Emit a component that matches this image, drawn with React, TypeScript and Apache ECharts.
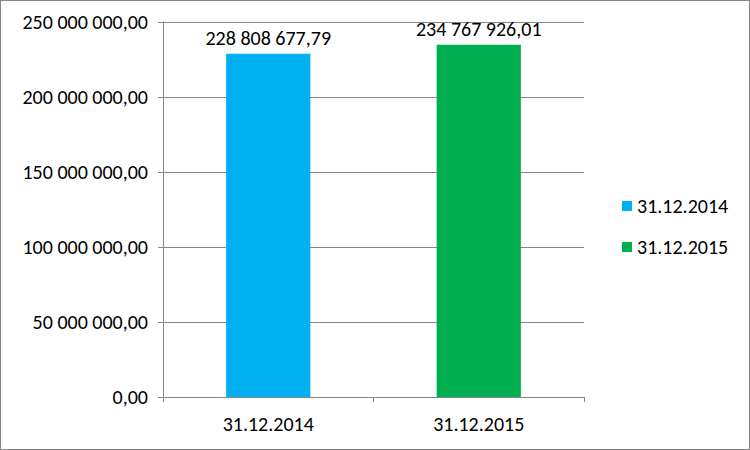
import { useEffect, useRef } from 'react';
import * as echarts from 'echarts';

const categories = ['31.12.2014', '31.12.2015'];
const seriesNames = ['31.12.2014', '31.12.2015'];
const values = [228808677.79, 234767926.01];
const colors = ['#00B0F0', '#00B050'];

const FONT = 'Carlito, Lato, sans-serif';
const FS = 20;

/** 228808677.79 -> "228 808 677,79" */
function fmt(v: number) {
  const [int, dec] = v.toFixed(2).split('.');
  return int.replace(/\B(?=(\d{3})+(?!\d))/g, ' ') + ',' + dec;
}

export default function App() {
  const elRef = useRef<HTMLDivElement>(null);

  useEffect(() => {
    const el = elRef.current;
    if (!el) return;
    const chart = echarts.init(el, undefined, { renderer: 'svg' });

    // one series per date, stacked so each bar sits centred in its own category
    const series = seriesNames.map((name, i) => ({
      name,
      type: 'bar' as const,
      stack: 'all',
      barWidth: '40%',
      itemStyle: { color: colors[i] },
      data: categories.map((_, j) => (j === i ? values[i] : '-')),
      label: {
        show: true,
        position: 'top' as const,
        distance: 6,
        color: '#000',
        fontFamily: FONT,
        fontSize: FS,
        formatter: (p: { value: number }) => fmt(p.value),
      },
    }));

    chart.setOption({
      animation: false,
      textStyle: { fontFamily: FONT },
      grid: { left: 162, top: 21, right: 165, bottom: 52 },
      legend: {
        orient: 'vertical',
        left: 616,
        top: 190,
        itemWidth: 10,
        itemHeight: 10,
        itemGap: 21,
        icon: 'rect',
        data: seriesNames,
        textStyle: { color: '#000', fontSize: FS, fontFamily: FONT },
      },
      xAxis: {
        type: 'category',
        data: categories,
        axisLine: { lineStyle: { color: '#868686' } },
        axisTick: { show: true, length: 5, lineStyle: { color: '#868686' } },
        axisLabel: { color: '#000', fontSize: FS, fontFamily: FONT, margin: 17 },
      },
      yAxis: {
        type: 'value',
        min: 0,
        max: 250000000,
        interval: 50000000,
        axisLine: { show: true, lineStyle: { color: '#868686' } },
        axisTick: { show: true, length: 5, lineStyle: { color: '#868686' } },
        splitLine: { lineStyle: { color: '#868686' } },
        axisLabel: {
          color: '#000',
          fontSize: FS,
          fontFamily: FONT,
          margin: 15,
          formatter: (v: number) => fmt(v),
        },
      },
      series,
    });

    return () => chart.dispose();
  }, []);

  return (
    <div
      style={{
        position: 'absolute',
        left: 0,
        top: 0,
        width: 750,
        height: 450,
        boxSizing: 'border-box',
        border: '1px solid #868686',
        background: '#fff',
      }}
    >
      <div ref={elRef} style={{ width: 748, height: 448 }} />
    </div>
  );
}
